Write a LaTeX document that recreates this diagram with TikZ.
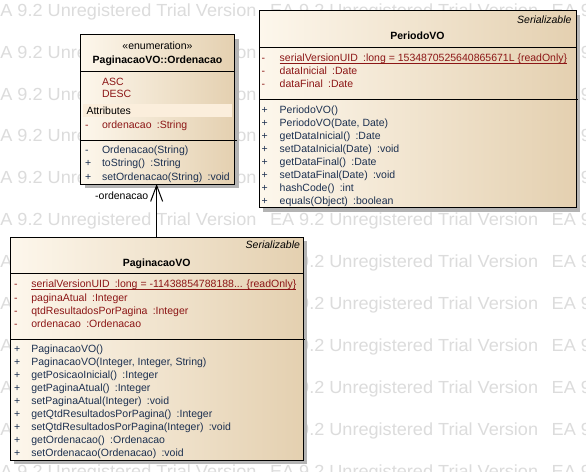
\documentclass[tikz,border=0pt]{standalone}
\usepackage{fontspec}
\setmainfont{Liberation Sans}
\usetikzlibrary{shadows,arrows.meta}
\definecolor{boxl}{HTML}{FDF7EC}
\definecolor{boxr}{HTML}{E4D0B0}
\definecolor{attrc}{HTML}{8C1616}
\definecolor{methc}{HTML}{1C3050}
\definecolor{wmc}{HTML}{DCDCDC}
\definecolor{shadc}{HTML}{B4B4B4}
\definecolor{bandc}{HTML}{FBEEDC}
\newcommand\tsp{\hspace{0.5em}}
\tikzset{
  every node/.style={inner sep=0pt, outer sep=0pt},
  classbox/.style={draw=black, line width=1pt, rectangle, anchor=north west,
    left color=boxl, right color=boxr,
    drop shadow={shadow xshift=4pt, shadow yshift=-4pt, fill=shadc, opacity=1}},
  txt/.style={anchor=base west, font=\fontsize{10.5}{12}\selectfont},
  attr/.style={txt, text=attrc},
  meth/.style={txt, text=methc},
  plain/.style={txt, text=black},
  hdr/.style={anchor=base, font=\fontsize{10.5}{12}\selectfont},
  hdrb/.style={anchor=base, font=\fontsize{10.5}{12}\selectfont\bfseries},
  stereo/.style={anchor=base east, font=\fontsize{10.5}{12}\selectfont\itshape},
  sepline/.style={line width=1pt, draw=black},
  uline/.style={line width=0.9pt, draw=attrc},
  wm/.style={anchor=base west, text=wmc, font=\fontsize{17.5}{20}\selectfont},
}
\begin{document}
\begin{tikzpicture}[x=1pt, y=-1pt]
\useasboundingbox (0,0) rectangle (586,471);
\fill[white] (0,0) rectangle (586,471);
% watermark
\begin{scope}
\clip (0,0) rectangle (586,471);
\foreach \k in {0,...,11}{
  \foreach \j in {0,1,2}{
    \node[wm] (wm\k-\j) at ({-11.7+281.7*\j},{16.2+41.9*\k}) {\scalebox{1.035}[1]{EA 9.2 Unregistered Trial Version}};
  }
}
\end{scope}

% ---------- enumeration box ----------
\node[classbox, minimum width=154pt, minimum height=149.5pt] (enum) at (80.5,34.5) {};
\draw[sepline] (80.5,71.3) -- (234.5,71.3);
\draw[sepline] (80.5,140.3) -- (236.5,140.3);
\fill[bandc] (83.3,104) rectangle (231.7,117.3);
\node[hdr] (est) at (157.5,49.5) {«enumeration»};
\node[hdrb] (ename) at (157.5,63.3) {PaginacaoVO::Ordenacao};
\node[attr] (el1) at (102,85) {ASC};
\node[attr] (el2) at (102,97.7) {DESC};
\node[plain] (eattrs) at (86.5,114.3) {Attributes};
\node[attr] (ev1) at (85,128) {-};
\node[attr] (ea1) at (102,128) {ordenacao\tsp:String};
\node[meth] (evm1) at (85,153.3) {-};
\node[meth] (em1) at (102,153.3) {Ordenacao(String)};
\node[meth] (evm2) at (85,166.7) {+};
\node[meth] (em2) at (102,166.7) {toString()\tsp:String};
\node[meth] (evm3) at (85,180) {+};
\node[meth] (em3) at (102,180) {setOrdenacao(String)\tsp:void};

% ---------- PeriodoVO box ----------
\node[classbox, minimum width=317pt, minimum height=197pt] (per) at (259,10.5) {};
\draw[sepline] (259,47.7) -- (576,47.7);
\draw[sepline] (259,99.3) -- (577.6,99.3);
\node[stereo] (pst) at (571.5,23.3) {Serializable};
\node[hdrb] (pname) at (417.5,39) {PeriodoVO};
\node[attr] (pv1) at (261.5,61.7) {-};
\node[attr] (pa1) at (279.7,61.7) {serialVersionUID\tsp:long = 1534870525640865671L \{readOnly\}};
\draw[uline] ([yshift=-2.2pt]pa1.base west) -- ([yshift=-2.2pt]pa1.base east);
\node[attr] (pv2) at (261.5,74.5) {-};
\node[attr] (pa2) at (279.7,74.5) {dataInicial\tsp:Date};
\node[attr] (pv3) at (261.5,87.3) {-};
\node[attr] (pa3) at (279.7,87.3) {dataFinal\tsp:Date};
\node[meth] (pvm1) at (261.5,113.7) {+};
\node[meth] (pm1) at (279.7,113.7) {PeriodoVO()};
\node[meth] (pvm2) at (261.5,126.7) {+};
\node[meth] (pm2) at (279.7,126.7) {PeriodoVO(Date, Date)};
\node[meth] (pvm3) at (261.5,139.6) {+};
\node[meth] (pm3) at (279.7,139.6) {getDataInicial()\tsp:Date};
\node[meth] (pvm4) at (261.5,152.5) {+};
\node[meth] (pm4) at (279.7,152.5) {setDataInicial(Date)\tsp:void};
\node[meth] (pvm5) at (261.5,165.4) {+};
\node[meth] (pm5) at (279.7,165.4) {getDataFinal()\tsp:Date};
\node[meth] (pvm6) at (261.5,178.3) {+};
\node[meth] (pm6) at (279.7,178.3) {setDataFinal(Date)\tsp:void};
\node[meth] (pvm7) at (261.5,191.2) {+};
\node[meth] (pm7) at (279.7,191.2) {hashCode()\tsp:int};
\node[meth] (pvm8) at (261.5,204.1) {+};
\node[meth] (pm8) at (279.7,204.1) {equals(Object)\tsp:boolean};

% ---------- PaginacaoVO box ----------
\node[classbox, minimum width=293.3pt, minimum height=222.7pt] (pag) at (10,237.3) {};
\draw[sepline] (10,273.3) -- (303.3,273.3);
\draw[sepline] (10,339) -- (305,339);
\node[stereo] (gst) at (300,248.7) {Serializable};
\node[hdrb] (gname) at (156.7,266) {PaginacaoVO};
\node[attr] (gv1) at (14,287.5) {-};
\node[attr] (ga1) at (31.4,287.5) {serialVersionUID\tsp:long = -11438854788188... \{readOnly\}};
\draw[uline] ([yshift=-2.2pt]ga1.base west) -- ([yshift=-2.2pt]ga1.base east);
\node[attr] (gv2) at (14,301) {-};
\node[attr] (ga2) at (31.4,301) {paginaAtual\tsp:Integer};
\node[attr] (gv3) at (14,314) {-};
\node[attr] (ga3) at (31.4,314) {qtdResultadosPorPagina\tsp:Integer};
\node[attr] (gv4) at (14,327) {-};
\node[attr] (ga4) at (31.4,327) {ordenacao\tsp:Ordenacao};
\node[meth] (gvm1) at (14,352.7) {+};
\node[meth] (gm1) at (31.4,352.7) {PaginacaoVO()};
\node[meth] (gvm2) at (14,365.7) {+};
\node[meth] (gm2) at (31.4,365.7) {PaginacaoVO(Integer, Integer, String)};
\node[meth] (gvm3) at (14,378.7) {+};
\node[meth] (gm3) at (31.4,378.7) {getPosicaoInicial()\tsp:Integer};
\node[meth] (gvm4) at (14,391.7) {+};
\node[meth] (gm4) at (31.4,391.7) {getPaginaAtual()\tsp:Integer};
\node[meth] (gvm5) at (14,404.8) {+};
\node[meth] (gm5) at (31.4,404.8) {setPaginaAtual(Integer)\tsp:void};
\node[meth] (gvm6) at (14,417.8) {+};
\node[meth] (gm6) at (31.4,417.8) {getQtdResultadosPorPagina()\tsp:Integer};
\node[meth] (gvm7) at (14,430.8) {+};
\node[meth] (gm7) at (31.4,430.8) {setQtdResultadosPorPagina(Integer)\tsp:void};
\node[meth] (gvm8) at (14,443.8) {+};
\node[meth] (gm8) at (31.4,443.8) {getOrdenacao()\tsp:Ordenacao};
\node[meth] (gvm9) at (14,456.8) {+};
\node[meth] (gm9) at (31.4,456.8) {setOrdenacao(Ordenacao)\tsp:void};

% ---------- association ----------
\draw[line width=1pt, -{Straight Barb[length=16pt,width=12pt,line width=1pt]}]
  (pag.north) -- (pag.north |- enum.south);
\node[txt, anchor=base east] (alabel) at (148.3,199) {-ordenacao};
\end{tikzpicture}
\end{document}
